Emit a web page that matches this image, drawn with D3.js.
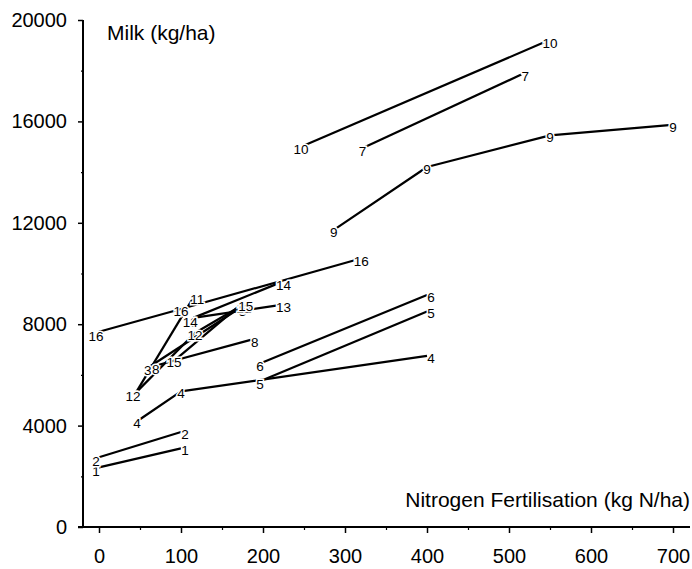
<!DOCTYPE html>
<html>
<head>
<meta charset="utf-8">
<script src="https://cdn.jsdelivr.net/npm/d3@7"></script>
<style>
  html, body { margin: 0; padding: 0; background: #fff; }
  svg { display: block; font-family: "Liberation Sans", Arial, Helvetica, sans-serif; }
</style>
</head>
<body>
<svg id="chart" width="692" height="569"></svg>
<script>
// ---- data ----
const seriesNames = ["1","2","3","4","5","6","7","8","9","10","11","12","13","14","15","16"];
const nitrogen = [
  [0, 100],
  [0, 100],
  [63, 170],
  [50, 100, 400],
  [200, 400],
  [200, 400],
  [325, 515],
  [73, 185],
  [290, 400, 550, 695],
  [250, 545],
  [45, 115],
  [45, 117, 172],
  [115, 220],
  [115, 220],
  [95, 174],
  [0, 100, 315]
];
const milk = [
  [2350, 3100],
  [2750, 3750],
  [6350, 8600],
  [4250, 5350, 6750],
  [5800, 8500],
  [6500, 9150],
  [15000, 17850],
  [6400, 7380],
  [11800, 14200, 15450, 15850],
  [15050, 19150],
  [5300, 9050],
  [5300, 7650, 8700],
  [8250, 8750],
  [8250, 9630],
  [6650, 8800],
  [7700, 8600, 10550]
];
const yTicks = [0, 4000, 8000, 12000, 16000, 20000];
const yMinorTicks = [2000, 6000, 10000, 14000, 18000];
const xTicks = [0, 100, 200, 300, 400, 500, 600, 700];
const xMinorTicks = [50, 150, 250, 350, 450, 550, 650];
const yTitle = "Milk (kg/ha)";
const xTitle = "Nitrogen Fertilisation (kg N/ha)";

// ---- chart ----
const svg = d3.select("#chart");
svg.append("rect").attr("width", 692).attr("height", 569).attr("fill", "#fff");

const x = d3.scaleLinear().domain([0, 700]).range([99, 673]);
const y = d3.scaleLinear().domain([0, 20000]).range([527, 20]);

const axisX0 = 83, axisY0 = y(0);

// y axis
const gy = svg.append("g").attr("transform", `translate(${axisX0},0)`);
gy.call(d3.axisLeft(y).tickValues(yTicks).tickSize(5).tickPadding(11).tickFormat(d3.format("d")));
gy.select(".domain").remove();
gy.selectAll(".tick line").attr("stroke", "#000").attr("stroke-width", 1.5);
gy.selectAll(".tick text").attr("font-size", 20).attr("fill", "#000").attr("font-family", null);
const gyMinor = svg.append("g").attr("transform", `translate(${axisX0},0)`);
gyMinor.call(d3.axisLeft(y).tickValues(yMinorTicks).tickSize(2).tickFormat(""));
gyMinor.select(".domain").remove();
gyMinor.selectAll(".tick line").attr("stroke", "#000").attr("stroke-width", 1.2);

// x axis
const gx = svg.append("g").attr("transform", `translate(0,${axisY0})`);
gx.call(d3.axisBottom(x).tickValues(xTicks).tickSize(6).tickPadding(16).tickFormat(d3.format("d")));
gx.select(".domain").remove();
gx.selectAll(".tick line").attr("stroke", "#000").attr("stroke-width", 1.5);
gx.selectAll(".tick text").attr("font-size", 20).attr("fill", "#000").attr("font-family", null);
const gxMinor = svg.append("g").attr("transform", `translate(0,${axisY0})`);
gxMinor.call(d3.axisBottom(x).tickValues(xMinorTicks).tickSize(3).tickFormat(""));
gxMinor.select(".domain").remove();
gxMinor.selectAll(".tick line").attr("stroke", "#000").attr("stroke-width", 1.2);

// axis lines
svg.append("line").attr("x1", axisX0).attr("x2", axisX0).attr("y1", y(20000)).attr("y2", axisY0)
  .attr("stroke", "#000").attr("stroke-width", 2);
svg.append("line").attr("x1", 78).attr("x2", 690).attr("y1", axisY0).attr("y2", axisY0)
  .attr("stroke", "#000").attr("stroke-width", 2);

// titles
svg.append("text").attr("x", 107).attr("y", 40).attr("font-size", 21).attr("fill", "#000").text(yTitle);
svg.append("text").attr("x", 690).attr("y", 507).attr("text-anchor", "end").attr("font-size", 21).attr("fill", "#000").text(xTitle);

// series lines
const line = d3.line().x(d => x(d[0])).y(d => y(d[1]));
const seriesData = seriesNames.map((name, i) => ({
  name,
  pts: nitrogen[i].map((n, j) => [n, milk[i][j]])
}));

svg.append("g").selectAll("path").data(seriesData).join("path")
  .attr("d", d => line(d.pts))
  .attr("fill", "none").attr("stroke", "#000").attr("stroke-width", 2.2).attr("stroke-linejoin", "round");

// point labels
const labels = [];
seriesData.forEach(s => {
  s.pts.forEach((p, j) => {
    const role = j === 0 ? "first" : (j === s.pts.length - 1 ? "last" : "mid");
    labels.push({ name: s.name, p, role });
  });
});
const off = { first: [-3, 4], last: [4, 2], mid: [0, 2] };
svg.append("g").selectAll("text").data(labels).join("text")
  .attr("x", d => x(d.p[0]) + off[d.role][0])
  .attr("y", d => y(d.p[1]) + off[d.role][1] + 4.8)
  .attr("text-anchor", "middle")
  .attr("font-size", 13.5)
  .attr("fill", "#000")
  .attr("stroke", "#fff").attr("stroke-width", 3).attr("paint-order", "stroke")
  .text(d => d.name);
</script>
</body>
</html>
